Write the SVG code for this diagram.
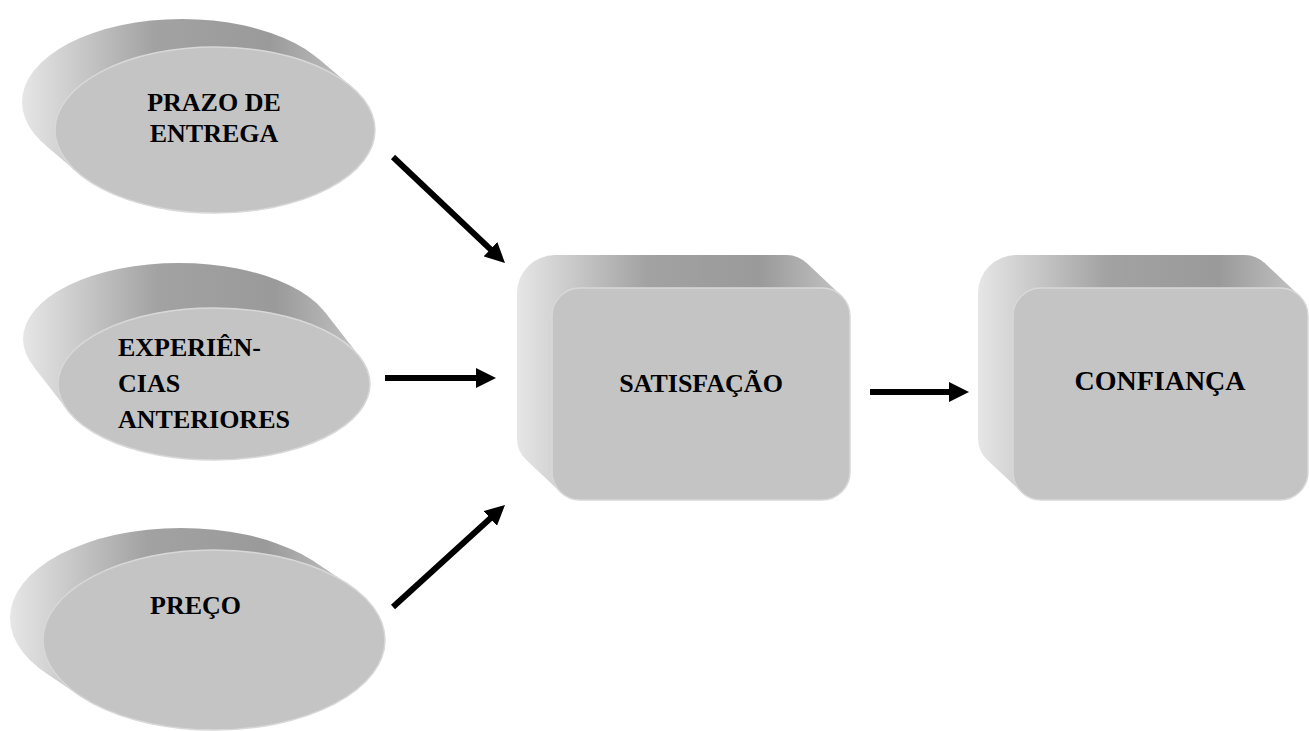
<svg xmlns="http://www.w3.org/2000/svg" width="1309" height="731" viewBox="0 0 1309 731">
<style>
.side{fill:url(#sideG);}
.face{fill:#c4c4c4;stroke:#d8d8d8;stroke-width:1.5;}
.lbl{font-family:"Liberation Serif","Times New Roman",serif;font-weight:bold;font-size:26px;fill:#000;}
.conn{stroke:#000;stroke-width:6;fill:none;marker-end:url(#ah);}
</style>
<defs>
<linearGradient id="sideG" x1="0" y1="0" x2="1" y2="0">
<stop offset="0" stop-color="#e6e6e6"/>
<stop offset="0.12" stop-color="#d2d2d2"/>
<stop offset="0.4" stop-color="#a2a2a2"/>
<stop offset="0.75" stop-color="#9a9a9a"/>
<stop offset="1" stop-color="#c2c2c2"/>
</linearGradient>
<marker id="ah" markerUnits="userSpaceOnUse" markerWidth="20" markerHeight="20" refX="10" refY="10" orient="auto">
<path d="M0,0 L20,10 L0,20 Z" fill="#000"/>
</marker>
</defs>
<rect width="1309" height="731" fill="#fff"/>

<g id="prazo">
<path class="side" d="M22,102 A160,83 0 1 1 342,102 A160,83 0 1 1 22,102 Z M318.6,58.7 L351.6,86.7 L78.4,173.3 L45.4,145.3 Z"/>
<ellipse class="face" cx="215" cy="130" rx="160" ry="83"/>
<text class="lbl" x="214" y="111" text-anchor="middle">PRAZO DE</text>
<text class="lbl" x="214" y="142" text-anchor="middle">ENTREGA</text>
</g>

<g id="experiencias">
<path class="side" d="M23,339 A156,76 0 1 1 335,339 A156,76 0 1 1 23,339 Z M324.9,312.1 L359.9,357.1 L68.1,410.9 L33.1,365.9 Z"/>
<ellipse class="face" cx="214" cy="384" rx="156" ry="76"/>
<text class="lbl" x="118" y="356">EXPERIÊN-</text>
<text class="lbl" x="118" y="392">CIAS</text>
<text class="lbl" x="118" y="428">ANTERIORES</text>
</g>

<g id="preco">
<path class="side" d="M10,618 A171,90 0 1 1 352,618 A171,90 0 1 1 10,618 Z M315.2,562.2 L348.2,584.2 L79.8,695.8 L46.8,673.8 Z"/>
<ellipse class="face" cx="214" cy="640" rx="171" ry="90"/>
<text class="lbl" x="150" y="614">PREÇO</text>
</g>

<g id="satisfacao">
<path class="side" d="M555,255 H787 A28,28 0 0 1 815,283 V439 A28,28 0 0 1 787,467 H545 A28,28 0 0 1 517,439 V293 A38,38 0 0 1 555,255 Z M806.2,262.6 L841.2,295.6 L560.8,492.4 L525.8,459.4 Z"/>
<rect class="face" x="552" y="288" width="298" height="212" rx="28" ry="28"/>
<text class="lbl" x="701" y="392" text-anchor="middle">SATISFAÇÃO</text>
</g>

<g id="confianca">
<path class="side" d="M1016,255 H1245 A28,28 0 0 1 1273,283 V439 A28,28 0 0 1 1245,467 H1006 A28,28 0 0 1 978,439 V293 A38,38 0 0 1 1016,255 Z M1264.2,262.6 L1299.2,295.6 L1021.8,492.4 L986.8,459.4 Z"/>
<rect class="face" x="1013" y="288" width="295" height="212" rx="28" ry="28"/>
<text class="lbl" x="1160" y="390" text-anchor="middle" style="font-size:28px">CONFIANÇA</text>
</g>

<g id="connectors">
<line class="conn" x1="393" y1="157" x2="497.7" y2="256.1"/>
<line class="conn" x1="385" y1="378" x2="486" y2="378"/>
<line class="conn" x1="393" y1="607" x2="497.6" y2="511.7"/>
<line class="conn" x1="870" y1="392" x2="959" y2="392"/>
</g>
</svg>
